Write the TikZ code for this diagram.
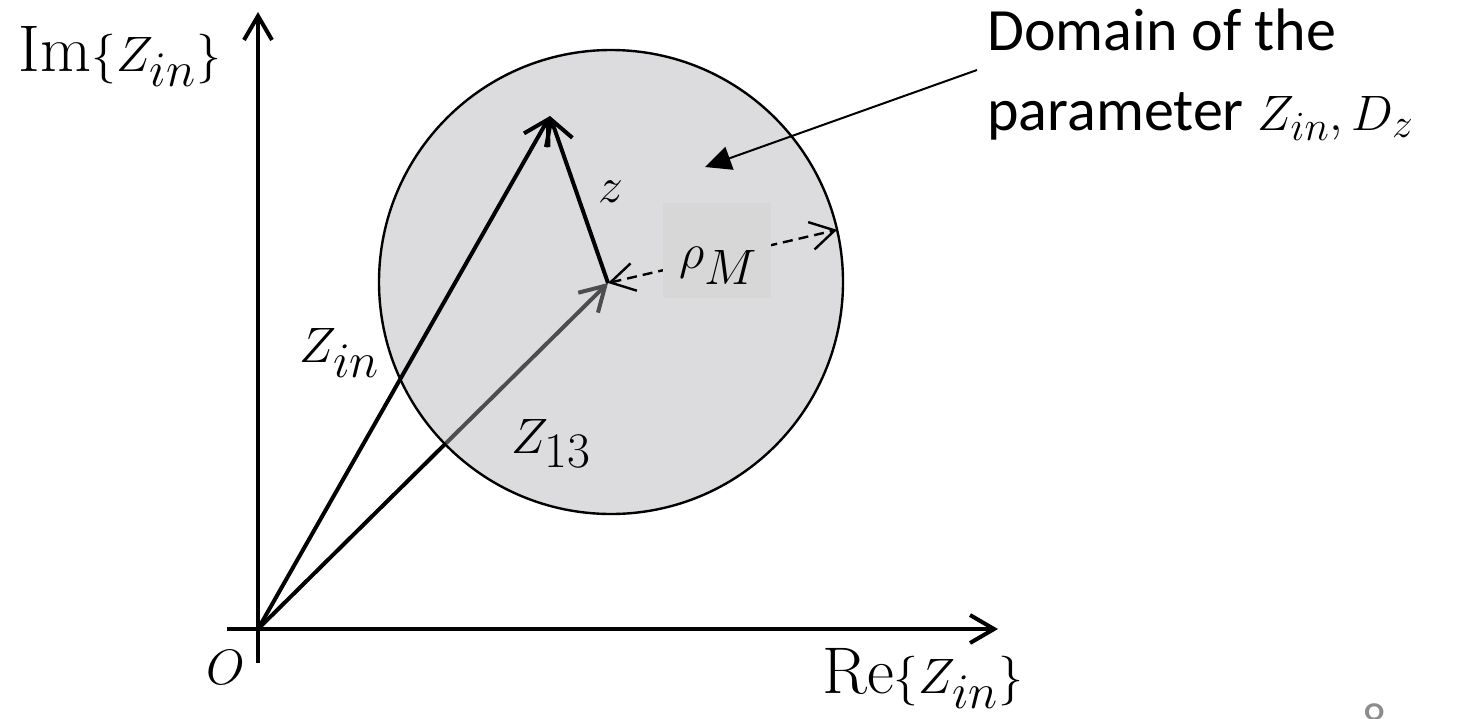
\documentclass[tikz,border=0pt]{standalone}
\usepackage{fontspec}
\usepackage{tikz}
\usetikzlibrary{arrows.meta,positioning}
\newfontfamily\notefont{Carlito}
\definecolor{discfill}{RGB}{176,174,179}
\definecolor{rhofill}{RGB}{215,215,215}
\definecolor{pagegray}{RGB}{140,140,140}

\begin{document}
\begin{tikzpicture}[x=0.5pt,y=-0.5pt,
  axis/.style={-{Straight Barb[length=12pt,width=14pt]},line width=2pt},
  vec/.style={-{Straight Barb[length=12pt,width=14pt]},line width=2pt},
  disc/.style={circle,draw,line width=1.2pt,fill=discfill,fill opacity=0.44,
    minimum size=232pt,inner sep=0pt,outer sep=0pt},
  rad/.style={{Straight Barb[length=12pt,width=14pt]}-{Straight Barb[length=12pt,width=14pt]},
    line width=1.2pt,dash pattern=on 5pt off 3pt},
  rhobox/.style={fill=rhofill,minimum width=54pt,minimum height=47.5pt,inner sep=0pt},
  lbl/.style={inner sep=0pt,anchor=base,font=\fontsize{33}{38}\selectfont},
  note/.style={inner sep=0pt,anchor=base west,align=left,
    font=\notefont\fontsize{30}{40}\selectfont},
  pointer/.style={-{Triangle[length=13pt,width=12pt]},line width=1pt},
]
  \useasboundingbox (0,0) rectangle (1470,718);

  \coordinate (O) at (258,629);
  \coordinate (C) at (608,283);
  \coordinate (T) at (550,116);
  \coordinate (xa) at (227,629);
  \coordinate (xb) at (998,629);
  \coordinate (ya) at (258,663);
  \coordinate (yb) at (258,12);

  % axes
  \draw[axis] (xa) -- (xb);
  \draw[axis] (ya) -- (yb);

  % Z13 goes under the disc
  \draw[vec] (O) -- (C);
  \node[disc] (dom) at (611,282) {};
  \draw[vec] (O) -- (T);
  \draw[vec] (C) -- (T);
  \draw[rad] (C) -- (dom.13.5);
  \node[rhobox] (rho) at (717,250) {};
  \node[lbl] (rhol) at (719,268) {$\rho_M$};

  % labels
  \node[lbl] (im) at (120,71) {$\mathrm{Im}\{Z_{in}\}$};
  \node[lbl] (re) at (923,693) {$\mathrm{Re}\{Z_{in}\}$};
  \node[lbl] (orig) at (226,684) {$O$};
  \node[lbl] (zin) at (340,362) {$Z_{in}$};
  \node[lbl] (z13) at (551,453) {$Z_{13}$};
  \node[lbl] (zl) at (611,202) {$z$};

  % base west of a two-line node sits on its last line
  \node[note] (note) at (987,130) {Domain of the\\parameter $Z_{in}, D_z$};
  \coordinate (tail) at (977,70);
  \coordinate (pin) at (705,167);
  \draw[pointer] (tail) -- (pin);

  \node[inner sep=0pt,anchor=north,text=pagegray,font=\notefont\fontsize{24}{28}\selectfont] (pg) at (1375,703) {8};
\end{tikzpicture}
\end{document}
